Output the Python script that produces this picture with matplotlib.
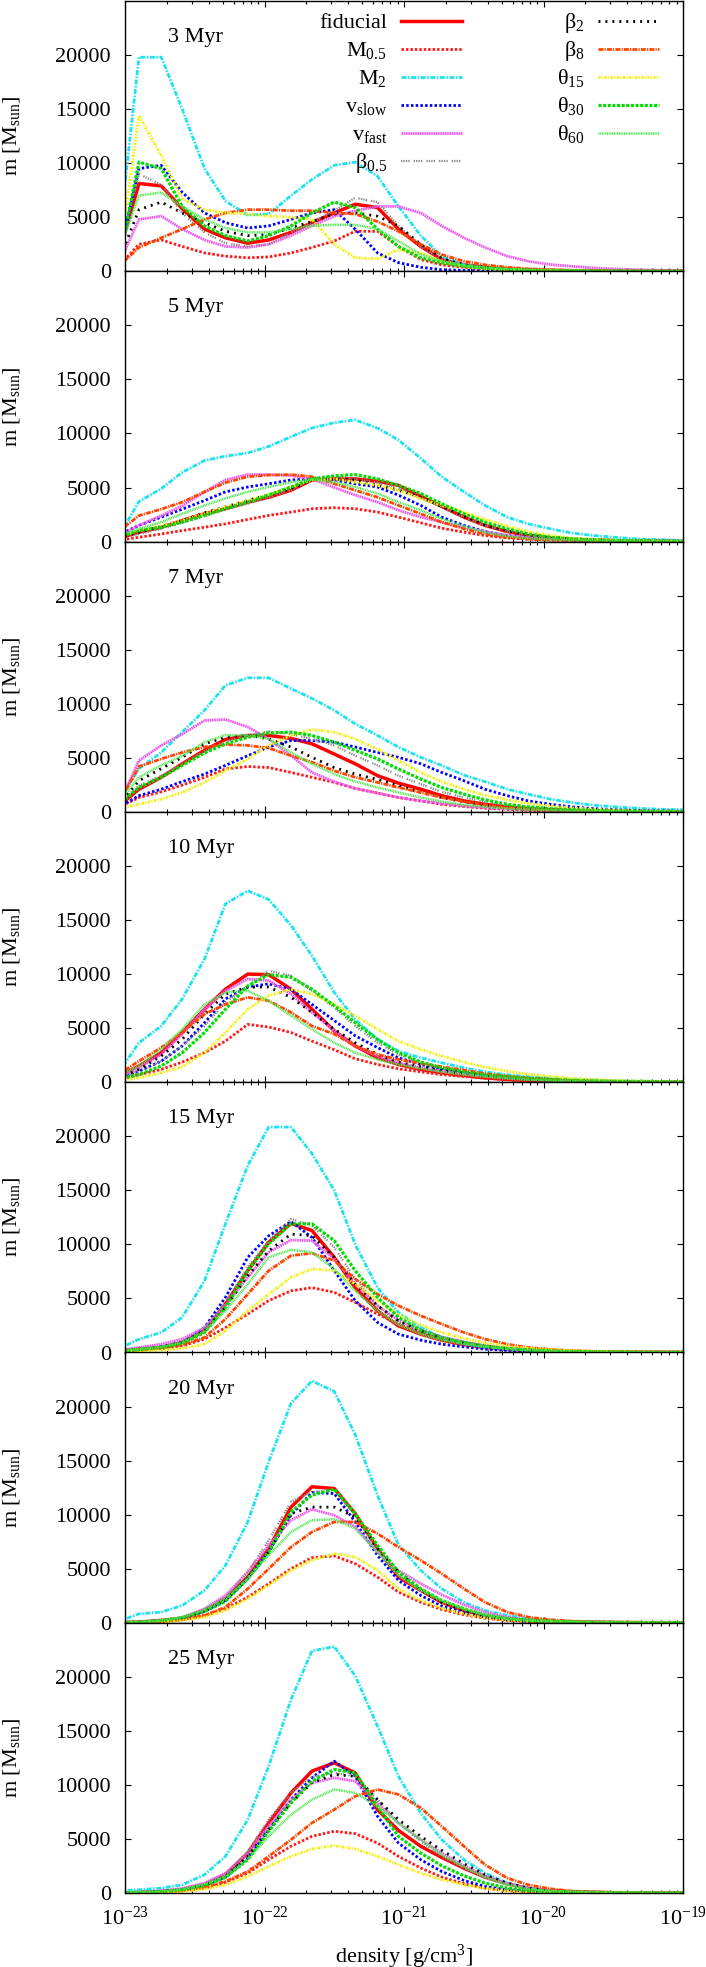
import numpy as np
import matplotlib
matplotlib.use('Agg')
import matplotlib.pyplot as plt
from matplotlib.ticker import LogLocator, NullFormatter, LogFormatterMathtext

plt.rcParams['font.family'] = ['Liberation Serif', 'DejaVu Serif']
plt.rcParams['mathtext.fontset'] = 'custom'
plt.rcParams['mathtext.rm'] = 'Liberation Serif'
plt.rcParams['mathtext.it'] = 'Liberation Serif:italic'
plt.rcParams['mathtext.bf'] = 'Liberation Serif:bold'
plt.rcParams['font.size'] = 16

# density bins (log10 g/cm^3)
logrho = [-23.05, -22.90, -22.74, -22.59, -22.43, -22.28, -22.12, -21.97, -21.81, -21.66,
          -21.50, -21.35, -21.19, -21.04, -20.88, -20.73, -20.57, -20.42, -20.26, -20.11,
          -19.95, -19.80, -19.64, -19.49, -19.33, -19.18, -19.02, -18.87]

ages = ['3 Myr', '5 Myr', '7 Myr', '10 Myr', '15 Myr', '20 Myr', '25 Myr']

# mass per density bin [Msun], one row per age
fiducial = [
    [1400, 8120, 7900, 5800, 3900, 3100, 2600, 2900, 3600, 4500, 5400, 6200, 5900, 3900, 2300, 1100, 600, 350, 200, 120, 80, 50, 30, 20, 15, 10, 10, 10],
    [300, 870, 1330, 1950, 2570, 3040, 3650, 4100, 4750, 5700, 5800, 5800, 5580, 5200, 4200, 3250, 2260, 1500, 930, 560, 340, 220, 140, 90, 60, 40, 30, 20],
    [500, 2100, 3200, 4450, 5700, 6700, 7070, 7070, 6800, 6300, 5350, 4450, 3350, 2660, 2100, 1500, 1020, 700, 470, 300, 200, 130, 90, 60, 40, 30, 20, 15],
    [500, 1500, 2730, 4600, 6750, 8600, 10000, 9950, 8600, 6750, 4750, 3350, 2260, 1640, 1180, 870, 620, 400, 260, 170, 110, 70, 50, 30, 20, 15, 10, 10],
    [150, 310, 460, 930, 2000, 4480, 7570, 10200, 11950, 11280, 8800, 6000, 3860, 2470, 1700, 1140, 740, 460, 280, 170, 110, 70, 40, 30, 20, 15, 10, 10],
    [30, 60, 220, 430, 1140, 2220, 4230, 6860, 10700, 12580, 12420, 10100, 6860, 4230, 3000, 1900, 1140, 620, 310, 190, 110, 70, 40, 30, 20, 10, 10, 10],
    [30, 60, 150, 310, 770, 1700, 3700, 6500, 9270, 11280, 12050, 11120, 7700, 5800, 4330, 3300, 2300, 1480, 870, 430, 200, 120, 70, 40, 30, 20, 10, 10],
]
m05 = [
    [400, 2500, 2900, 2300, 1700, 1400, 1250, 1330, 1700, 2200, 2800, 3700, 3700, 2300, 1100, 600, 370, 250, 150, 100, 60, 40, 30, 20, 15, 10, 10, 10],
    [100, 400, 700, 1020, 1330, 1640, 2050, 2420, 2730, 3040, 3130, 3040, 2730, 2260, 1740, 1240, 870, 560, 340, 220, 140, 90, 60, 40, 30, 20, 15, 10],
    [400, 1330, 1860, 2480, 3200, 3970, 4200, 4100, 3650, 3200, 2730, 2170, 1740, 1330, 1020, 700, 500, 340, 230, 150, 100, 70, 50, 30, 20, 15, 10, 10],
    [200, 700, 1180, 1860, 2730, 3800, 5350, 5100, 4600, 3800, 3000, 2170, 1640, 1240, 960, 700, 530, 370, 250, 170, 110, 70, 50, 30, 20, 15, 10, 10],
    [100, 220, 370, 620, 1240, 2300, 3550, 4800, 5700, 6000, 5560, 4640, 3550, 2630, 1850, 1300, 870, 560, 370, 230, 150, 90, 60, 40, 25, 15, 10, 10],
    [10, 30, 120, 280, 680, 1300, 2380, 3620, 5000, 6030, 6180, 5470, 4230, 2840, 1900, 1240, 740, 430, 220, 130, 80, 50, 30, 20, 10, 10, 10, 10],
    [10, 30, 90, 220, 460, 990, 1850, 3090, 4330, 5250, 5720, 5500, 4630, 3400, 2320, 1480, 870, 460, 220, 120, 70, 40, 25, 15, 10, 10, 10, 10],
]
m2 = [
    [2300, 19800, 19800, 15000, 9500, 6500, 5200, 5300, 7000, 8500, 9800, 10100, 8800, 6000, 3300, 1400, 600, 350, 200, 120, 80, 50, 30, 20, 15, 10, 10, 10],
    [400, 3700, 4900, 6400, 7500, 7900, 8200, 8800, 9700, 10500, 11000, 11250, 10500, 9400, 7700, 6000, 4600, 3350, 2260, 1640, 1180, 800, 560, 400, 250, 180, 120, 90],
    [1000, 4000, 5500, 7400, 9400, 11700, 12400, 12400, 11400, 10500, 9400, 8150, 7070, 6000, 5050, 4300, 3400, 2800, 2100, 1640, 1180, 870, 620, 470, 340, 250, 200, 150],
    [800, 3650, 5200, 7700, 11400, 16500, 17700, 16900, 14500, 11700, 8300, 5800, 3970, 2880, 2260, 1800, 1330, 960, 680, 500, 370, 270, 200, 140, 100, 80, 60, 50],
    [300, 1240, 1850, 3250, 6640, 11900, 17300, 20850, 20850, 18400, 15000, 10000, 6000, 3700, 2300, 1390, 830, 460, 280, 170, 110, 70, 50, 30, 20, 15, 10, 10],
    [100, 830, 990, 1600, 3000, 5300, 9330, 14900, 20300, 22370, 21400, 17400, 11800, 7200, 4850, 3150, 1900, 1140, 680, 370, 220, 130, 80, 50, 30, 20, 15, 10],
    [200, 310, 460, 770, 1700, 3400, 6800, 11740, 17900, 22400, 22800, 20100, 15450, 10800, 7400, 4940, 3090, 1850, 930, 460, 220, 130, 80, 50, 30, 20, 15, 10],
]
vslow = [
    [800, 9500, 9800, 7300, 5400, 4500, 4000, 4200, 4800, 5400, 5700, 3900, 1700, 800, 370, 150, 80, 50, 30, 20, 15, 10, 10, 10, 5, 5, 5, 5],
    [600, 1500, 2260, 3000, 3800, 4600, 5050, 5350, 5700, 5800, 5700, 5350, 5050, 4300, 3350, 2260, 1500, 930, 560, 350, 220, 140, 90, 60, 40, 30, 20, 15],
    [400, 1500, 2100, 2800, 3500, 4300, 5200, 6000, 6600, 6600, 6450, 6000, 5500, 5050, 4450, 3650, 2880, 2100, 1500, 1020, 700, 470, 300, 200, 130, 90, 60, 40],
    [300, 1020, 1950, 3350, 5500, 7700, 8800, 9100, 8600, 7200, 5700, 4300, 3200, 2260, 1640, 1180, 870, 620, 430, 290, 190, 120, 80, 50, 30, 20, 15, 10],
    [150, 310, 520, 930, 2300, 5100, 8800, 10800, 12100, 10650, 7570, 4800, 2780, 1700, 1140, 770, 520, 310, 190, 120, 70, 50, 30, 20, 15, 10, 10, 10],
    [30, 60, 190, 430, 1050, 2070, 4080, 6550, 9950, 12050, 11960, 9330, 6240, 3920, 2530, 1550, 930, 530, 280, 160, 100, 60, 40, 25, 15, 10, 10, 10],
    [30, 60, 150, 310, 740, 1480, 3240, 5870, 8650, 10660, 12200, 10800, 7100, 4630, 3090, 2000, 1170, 620, 310, 180, 100, 60, 40, 20, 15, 10, 10, 10],
]
vfast = [
    [500, 4800, 5100, 3900, 2900, 2300, 2200, 2500, 3300, 4200, 5100, 5600, 6000, 6000, 5400, 4200, 3100, 2200, 1400, 930, 620, 470, 310, 220, 150, 100, 80, 60],
    [500, 1500, 2400, 3300, 4600, 5700, 6200, 6200, 6100, 5800, 5000, 4300, 3650, 2900, 2260, 1800, 1330, 930, 560, 400, 280, 200, 140, 100, 70, 50, 40, 30],
    [550, 4750, 6150, 7200, 8450, 8550, 7850, 6750, 5200, 3650, 2800, 2170, 1740, 1330, 1020, 780, 560, 400, 280, 200, 140, 100, 70, 50, 40, 30, 20, 15],
    [400, 1330, 2570, 4450, 6750, 8450, 9550, 9400, 8150, 6450, 4750, 3350, 2420, 1800, 1330, 1020, 780, 590, 410, 280, 190, 120, 80, 50, 40, 30, 20, 15],
    [200, 460, 770, 1240, 2300, 4330, 6950, 9270, 10400, 10350, 8650, 6330, 4330, 3000, 2070, 1450, 990, 650, 430, 280, 180, 110, 70, 50, 30, 20, 15, 10],
    [30, 60, 220, 490, 1300, 2530, 4700, 7170, 9490, 10500, 9950, 8870, 6550, 4850, 3620, 2600, 1670, 990, 530, 250, 150, 90, 60, 40, 25, 15, 10, 10],
    [40, 90, 220, 430, 930, 1850, 3700, 6180, 8650, 10200, 10660, 10350, 8340, 6490, 4940, 3700, 2530, 1600, 870, 430, 230, 130, 80, 50, 30, 20, 10, 10],
]
beta05 = [
    [1500, 9000, 8000, 5400, 3600, 2600, 2300, 2500, 3600, 4500, 5600, 6800, 6400, 4200, 2300, 1100, 600, 350, 200, 120, 80, 50, 30, 20, 15, 10, 10, 10],
    [300, 700, 1180, 1740, 2350, 3000, 3500, 4100, 4750, 5800, 6000, 5800, 5450, 4900, 4030, 3200, 2260, 1500, 930, 560, 340, 220, 140, 90, 60, 40, 30, 20],
    [700, 2420, 3350, 4450, 5600, 6500, 7070, 7450, 7200, 6750, 6150, 5200, 4300, 3350, 2570, 1860, 1330, 930, 620, 400, 260, 170, 110, 70, 50, 30, 20, 15],
    [300, 1020, 1950, 3350, 5200, 7400, 8900, 10300, 9850, 8450, 6900, 5200, 3650, 2570, 1800, 1300, 960, 700, 530, 370, 250, 170, 110, 70, 50, 30, 20, 15],
    [150, 310, 520, 1020, 2160, 4640, 7900, 10350, 12350, 11750, 9730, 6800, 4330, 2780, 1850, 1240, 830, 520, 340, 210, 130, 80, 50, 30, 20, 15, 10, 10],
    [30, 60, 220, 490, 1240, 2380, 4700, 7630, 11200, 12100, 12270, 9950, 6700, 4390, 3000, 1900, 1200, 680, 370, 220, 130, 80, 50, 30, 20, 10, 10, 10],
    [30, 60, 150, 340, 830, 1700, 3860, 6800, 9270, 10750, 11120, 10800, 8650, 6490, 4790, 3400, 2320, 1390, 770, 400, 230, 130, 80, 50, 30, 20, 10, 10],
]
beta2 = [
    [800, 5700, 6400, 5400, 4500, 3700, 3300, 3400, 4000, 4600, 5300, 5400, 5100, 4200, 2500, 1200, 600, 370, 220, 130, 80, 50, 30, 20, 15, 10, 10, 10],
    [300, 870, 1400, 1950, 2660, 3200, 3800, 4350, 4900, 5700, 5800, 5700, 5200, 4750, 4100, 3250, 2350, 1550, 1000, 620, 400, 250, 160, 100, 70, 50, 30, 20],
    [600, 2880, 4000, 5050, 6300, 6900, 7100, 6750, 6000, 5050, 4100, 3500, 3000, 2420, 1800, 1330, 930, 620, 400, 250, 160, 100, 70, 50, 30, 20, 15, 10],
    [400, 1180, 2420, 3970, 6300, 8150, 8800, 8800, 7850, 6450, 4900, 3650, 2570, 1860, 1430, 1090, 800, 620, 430, 290, 190, 120, 80, 50, 30, 20, 15, 10],
    [150, 310, 520, 930, 2000, 4170, 7100, 9400, 10950, 10800, 8800, 6330, 4330, 2940, 2000, 1330, 870, 560, 370, 230, 140, 90, 60, 40, 30, 20, 15, 10],
    [30, 60, 190, 430, 1110, 2130, 4140, 6550, 10100, 10700, 10700, 9800, 6860, 4700, 3000, 1900, 1140, 620, 340, 200, 120, 70, 40, 30, 20, 10, 10, 10],
    [30, 60, 150, 310, 740, 1550, 3400, 5870, 8340, 10200, 10970, 10800, 8650, 6800, 5250, 3960, 2720, 1700, 930, 460, 250, 140, 80, 50, 30, 20, 10, 10],
]
beta8 = [
    [400, 2200, 3100, 3900, 4800, 5400, 5700, 5700, 5600, 5600, 5400, 5300, 4600, 3700, 2500, 1550, 930, 600, 370, 230, 150, 100, 70, 50, 30, 20, 15, 10],
    [900, 2400, 3000, 3650, 4600, 5450, 6000, 6150, 6200, 6000, 5350, 4750, 4100, 3350, 2570, 1800, 1180, 700, 400, 250, 160, 100, 70, 50, 30, 20, 15, 10],
    [700, 4200, 4900, 5500, 6000, 6230, 6150, 5900, 5200, 4600, 3800, 3200, 2730, 2260, 1800, 1330, 960, 650, 400, 250, 160, 100, 70, 50, 30, 20, 15, 10],
    [700, 1950, 3200, 4600, 6300, 7200, 7850, 7530, 6450, 5200, 4450, 3350, 2570, 2100, 1740, 1430, 1120, 800, 560, 400, 270, 180, 120, 80, 50, 40, 30, 20],
    [100, 250, 400, 710, 1390, 3090, 5400, 7570, 8960, 9180, 8500, 6800, 5400, 4330, 3400, 2630, 1850, 1240, 770, 460, 280, 180, 110, 70, 50, 30, 20, 15],
    [10, 30, 120, 280, 680, 1450, 3150, 5000, 7000, 8400, 9330, 9330, 8250, 7000, 5780, 4540, 3150, 1900, 990, 530, 280, 160, 100, 60, 40, 25, 15, 10],
    [10, 30, 90, 220, 530, 1080, 2000, 3400, 4940, 6490, 7720, 8960, 9580, 9120, 7880, 6180, 4330, 2630, 1390, 770, 400, 190, 110, 60, 40, 25, 15, 10],
]
theta15 = [
    [500, 14400, 10700, 6700, 5700, 5400, 5300, 5100, 5000, 4800, 2500, 1240, 1150, 2000, 1700, 930, 470, 250, 150, 100, 60, 40, 30, 20, 15, 10, 10, 10],
    [400, 1020, 1430, 1950, 2570, 3200, 3800, 4350, 5050, 5700, 5800, 5500, 5200, 4750, 3950, 3350, 2730, 2050, 1430, 930, 560, 330, 200, 130, 80, 50, 40, 30],
    [300, 700, 1180, 1800, 2730, 3800, 4900, 6150, 7070, 7620, 7380, 6750, 5800, 4750, 3650, 2800, 2100, 1550, 1120, 780, 560, 370, 250, 160, 100, 70, 50, 30],
    [150, 400, 870, 1430, 2730, 4600, 6750, 8000, 8600, 8150, 7200, 6150, 4900, 3800, 3040, 2420, 1860, 1400, 1020, 740, 530, 370, 250, 170, 110, 70, 50, 40],
    [80, 150, 220, 370, 770, 2000, 3860, 5400, 6950, 7720, 7570, 6330, 4800, 3500, 2560, 1850, 1300, 900, 590, 400, 260, 170, 110, 70, 50, 30, 20, 15],
    [10, 30, 90, 220, 530, 1140, 2220, 3460, 4850, 5780, 6400, 6090, 4850, 3150, 2070, 1360, 830, 460, 250, 150, 90, 50, 30, 20, 15, 10, 10, 10],
    [10, 30, 60, 150, 370, 770, 1550, 2470, 3400, 4080, 4390, 4080, 3400, 2630, 1850, 1240, 770, 430, 220, 120, 70, 40, 25, 15, 10, 10, 10, 10],
]
theta30 = [
    [650, 10100, 9500, 6000, 4200, 3300, 2800, 3300, 4200, 5400, 6400, 5900, 3900, 2300, 1240, 780, 470, 300, 180, 110, 70, 50, 30, 20, 15, 10, 10, 10],
    [400, 1020, 1330, 1800, 2420, 3040, 3650, 4300, 5050, 5800, 6080, 6200, 5800, 5200, 4450, 3500, 2570, 1800, 1180, 700, 400, 250, 160, 100, 70, 50, 30, 20],
    [600, 2260, 3200, 4300, 5450, 6300, 6900, 7300, 7380, 7070, 6450, 5700, 4900, 3970, 3040, 2260, 1640, 1120, 700, 470, 300, 200, 130, 80, 50, 40, 30, 20],
    [300, 700, 1500, 2730, 4600, 6750, 8900, 9950, 9700, 8600, 7070, 5500, 3970, 2730, 1860, 1330, 960, 680, 500, 350, 240, 160, 100, 70, 40, 30, 20, 15],
    [120, 280, 460, 830, 1850, 4170, 7570, 10050, 11900, 11900, 10350, 7570, 5100, 3250, 2070, 1390, 930, 590, 370, 230, 140, 90, 60, 40, 30, 20, 15, 10],
    [30, 60, 220, 460, 1050, 1980, 4080, 6550, 10260, 11800, 12360, 10100, 7170, 4700, 3150, 2070, 1300, 740, 400, 240, 140, 90, 50, 30, 20, 15, 10, 10],
    [30, 60, 150, 310, 710, 1450, 3090, 5720, 8340, 10350, 11430, 11120, 8030, 5250, 3700, 2530, 1600, 930, 460, 250, 140, 80, 50, 30, 20, 10, 10, 10],
]
theta60 = [
    [1600, 7000, 7300, 6000, 4800, 4000, 3600, 3600, 3900, 4200, 4300, 4300, 3900, 2800, 1550, 930, 560, 330, 200, 120, 80, 50, 30, 20, 15, 10, 10, 10],
    [500, 1180, 1800, 2570, 3350, 4000, 4600, 5050, 5500, 5750, 5500, 5050, 4450, 3650, 2900, 2100, 1430, 870, 500, 300, 200, 130, 80, 60, 40, 30, 20, 15],
    [800, 3200, 4300, 5200, 6450, 7100, 7100, 6750, 5500, 4450, 3500, 2800, 2260, 1800, 1330, 960, 650, 470, 320, 220, 150, 100, 70, 50, 30, 20, 15, 10],
    [600, 1500, 3040, 4900, 7200, 8300, 8450, 7530, 6150, 4900, 3650, 2730, 2100, 1640, 1270, 960, 700, 500, 340, 220, 150, 100, 60, 40, 30, 20, 15, 10],
    [150, 310, 520, 930, 1950, 3860, 6330, 8800, 9500, 9270, 7720, 5700, 3860, 2560, 1700, 1140, 770, 520, 340, 220, 140, 90, 60, 40, 25, 15, 10, 10],
    [30, 60, 220, 530, 1200, 2220, 4080, 6240, 8400, 9490, 9580, 8710, 6550, 4390, 3000, 2070, 1300, 740, 370, 220, 130, 80, 50, 30, 20, 10, 10, 10],
    [30, 60, 150, 340, 800, 1550, 3090, 5250, 7260, 8650, 9580, 9270, 8030, 6490, 4940, 3550, 2410, 1480, 770, 370, 200, 120, 70, 40, 25, 15, 10, 10],
]

series = [fiducial, m05, m2, vslow, vfast, beta05, beta2, beta8, theta15, theta30, theta60]
labels = ['fiducial', r'M$_{0.5}$', r'M$_{2}$', r'v$_{\rm slow}$', r'v$_{\rm fast}$',
          r'β$_{0.5}$', r'β$_{2}$', r'β$_{8}$', r'θ$_{15}$', r'θ$_{30}$', r'θ$_{60}$']
colors = ['#ff0000', '#ff1a1a', '#1de3ef', '#0000ff', '#ee5cee', '#888888',
          '#000000', '#ff4500', '#f2f200', '#00dd00', '#4be84b']
widths = [2.5, 2.0, 2.0, 2.0, 2.0, 1.6, 2.0, 2.0, 2.0, 2.3, 1.8]
styles = ['-', (0, (0.9, 0.7)), (0, (1.8, 0.55, 0.55, 0.55)), (0, (0.9, 0.8)),
          (0, (0.6, 0.22)), (0, (0.6, 0.5, 0.6, 0.5, 0.6, 0.5, 0.6, 1.8)),
          (0, (0.7, 1.8)), (0, (1.8, 0.4, 0.45, 0.4)), (0, (0.8, 0.5, 0.4, 0.5)),
          (0, (0.95, 0.5)), (0, (0.4, 0.28))]

rho = 10.0 ** np.array(logrho)

W, H = 706, 1967
fig = plt.figure(figsize=(W / 100, H / 100), dpi=100)
ph = 270.3
for k in range(7):
    top_px = 1 + ph * k
    ax = fig.add_axes([125 / W, 1 - (top_px + ph) / H, 558 / W, ph / H])
    for s in range(len(series)):
        vals = series[s][k]
        ax.plot(rho[:len(vals)], vals, color=colors[s], lw=widths[s], ls=styles[s],
                dash_capstyle='butt', solid_capstyle='butt', zorder=2 + s * 0.01)
    ax.set_xscale('log')
    ax.set_xlim(1e-23, 1e-19)
    ax.set_ylim(0, 25000)
    ax.set_yticks([0, 5000, 10000, 15000, 20000])
    ax.xaxis.set_major_locator(LogLocator(base=10, numticks=10))
    ax.xaxis.set_minor_locator(LogLocator(base=10, subs=np.arange(2, 10), numticks=30))
    ax.xaxis.set_minor_formatter(NullFormatter())
    if k < 6:
        ax.xaxis.set_major_formatter(NullFormatter())
    else:
        ax.xaxis.set_major_formatter(LogFormatterMathtext())
        ax.set_xlabel(r'density [g/cm$^3$]', fontsize=16, labelpad=9)
    ax.tick_params(which='both', direction='in', top=True, right=True)
    ax.tick_params(which='major', length=4.5, width=0.8, pad=10, labelsize=16)
    ax.tick_params(which='minor', length=2.4, width=0.8)
    for sp in ax.spines.values():
        sp.set_linewidth(1.0)
    ax.set_ylabel(r'm [M$_{\rm sun}$]', fontsize=16)
    ax.yaxis.set_label_coords(-0.185, 0.5)
    ax.text(0.077, 0.848, ages[k], transform=ax.transAxes, ha='left', va='baseline', fontsize=16)

    if k == 0:
        rows = [0.927, 0.823, 0.720, 0.615, 0.511, 0.407]
        for s in range(len(series)):
            col, row = (0, s) if s < 6 else (1, s - 6)
            x0, x1, xt = (0.495, 0.604, 0.470) if col == 0 else (0.848, 0.957, 0.824)
            y = rows[row]
            ax.plot([x0, x1], [y, y], transform=ax.transAxes, color=colors[s],
                    lw=widths[s], ls=styles[s], dash_capstyle='butt', clip_on=False)
            ax.text(xt, y - 0.026, labels[s], transform=ax.transAxes, ha='right',
                    va='baseline', fontsize=16)

fig.savefig('out.png', dpi=100)
